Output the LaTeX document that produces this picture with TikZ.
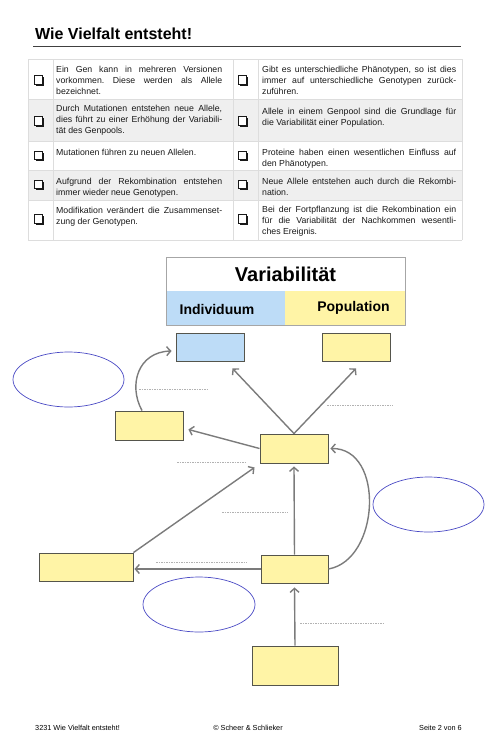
\documentclass[tikz,border=0pt]{standalone}
\usepackage{fontspec}
\setmainfont{Liberation Sans}
\usepackage{tikz}
\usetikzlibrary{arrows.meta,positioning,shapes.geometric,shadows}

\definecolor{fieldblue}{HTML}{BDDCF7}
\definecolor{fieldyellow}{HTML}{FFF4A6}
\definecolor{ovalblue}{HTML}{4A4AC4}
\definecolor{arrowgray}{HTML}{7B7B7B}
\definecolor{boxline}{HTML}{55554C}
\definecolor{rulegray}{HTML}{DDDDDD}
\definecolor{rowgray}{HTML}{EFEFEF}

\newcommand\cellsetup{\fontsize{8.75}{11.4}\selectfont\frenchspacing
  \tolerance=10000\relax\hyphenpenalty=10000\relax}

\tikzset{
  celltext/.style={anchor=north west,inner sep=0pt,align=justify,
    font=\cellsetup,text=black!90},
  leftcell/.style={celltext,text width=166pt},
  rightcell/.style={celltext,text width=194pt},
  tickbox/.style={draw=black!90,fill=white,line width=0.8pt,minimum size=8.5pt,
    inner sep=0pt,drop shadow={shadow xshift=1.4pt,shadow yshift=-1.4pt,
    fill=black!90,opacity=1}},
  fieldbox/.style={draw=boxline,line width=0.9pt,minimum width=68pt,
    minimum height=28pt,inner sep=0pt},
  yellowfield/.style={fieldbox,fill=fieldyellow},
  bluefield/.style={fieldbox,fill=fieldblue},
  oval/.style={ellipse,draw=ovalblue,line width=0.7pt,minimum width=111pt,
    minimum height=55pt,inner sep=0pt},
  flow/.style={draw=arrowgray,line width=1.4pt,
    -{Straight Barb[length=4pt,width=9pt]}},
  answerline/.style={draw=black!30,line width=0.6pt,dash pattern=on 1.5pt off 1pt},
}

\begin{document}
\begin{tikzpicture}[x=1pt,y=-1pt]
  \useasboundingbox (0,0) rectangle (500,755);
  % Title
  \node[anchor=base west,inner sep=0pt,font=\fontsize{16}{19}\selectfont\bfseries]
    (title) at (35,39) {Wie Vielfalt entsteht!};
  \draw[black!75,line width=0.8pt] (33,46) -- (461,46);

  % Table
  \fill[rowgray] (28,99) rectangle (462,141);
  \fill[rowgray] (28,170) rectangle (462,200);
  \foreach \y in {59,99,141,170,200,240}
    \draw[rulegray] (28,\y) -- (462,\y);
  \foreach \x in {28,53,233,258,462}
    \draw[rulegray] (\x,59) -- (\x,240);
  \foreach \y [count=\i] in {80,121,155.5,184.5,219}{
    \node[tickbox] (boxL\i) at (38.5,\y) {};
    \node[tickbox] (boxR\i) at (242.5,\y) {};
  }
  \node[leftcell] (textL1) at (56,65.5) {Ein Gen kann in mehreren Versionen\linebreak vorkommen. Diese werden als Allele\linebreak bezeichnet.};
  \node[leftcell] (textL2) at (56,104.5) {Durch Mutationen entstehen neue Allele,\linebreak dies führt zu einer Erhöhung der Variabili-\linebreak tät des Genpools.};
  \node[leftcell] (textL3) at (56,149) {Mutationen führen zu neuen Allelen.};
  \node[leftcell] (textL4) at (56,178) {Aufgrund der Rekombination entstehen\linebreak immer wieder neue Genotypen.};
  \node[leftcell] (textL5) at (56,207) {Modifikation verändert die Zusammenset-\linebreak zung der Genotypen.};
  \node[rightcell] (textR1) at (262,65.5) {Gibt es unterschiedliche Phänotypen, so ist dies\linebreak immer auf unterschiedliche Genotypen zurück-\linebreak zuführen.};
  \node[rightcell] (textR2) at (262,108) {Allele in einem Genpool sind die Grundlage für\linebreak die Variabilität einer Population.};
  \node[rightcell] (textR3) at (262,149) {Proteine haben einen wesentlichen Einfluss auf\linebreak den Phänotypen.};
  \node[rightcell] (textR4) at (262,178) {Neue Allele entstehen auch durch die Rekombi-\linebreak nation.};
  \node[rightcell] (textR5) at (262,205.5) {Bei der Fortpflanzung ist die Rekombination ein\linebreak für die Variabilität der Nachkommen wesentli-\linebreak ches Ereignis.};

  % Variabilitaet header
  \node[fill=white,minimum width=239pt,minimum height=34pt,inner sep=0pt,
    font=\fontsize{20}{20}\selectfont\bfseries] (varHead) at (285.5,274) {Variabilität};
  \node[fill=fieldblue,minimum width=119pt,minimum height=34pt,inner sep=0pt] (varIndiv) at (225.5,308) {};
  \node[fill=fieldyellow,minimum width=120pt,minimum height=34pt,inner sep=0pt] (varPop) at (345,308) {};
  \draw[black!35] (varHead.north west) rectangle (varPop.south east);
  \node[font=\fontsize{14}{14}\selectfont\bfseries] (indivLabel) at (217,309.5) {Individuum};
  \node[font=\fontsize{14}{14}\selectfont\bfseries] (popLabel) at (353.5,308) {Population};

  % Answer fields
  \node[bluefield] (indiv) at (210,347) {};
  \node[yellowfield] (popul) at (356,347) {};
  \node[yellowfield,minimum height=29pt] (left) at (149,425.5) {};
  \node[yellowfield,minimum height=29pt] (mid) at (294,448.5) {};
  \node[yellowfield,minimum width=94pt] (lowleft) at (86,567) {};
  \node[yellowfield,minimum width=67pt] (lowmid) at (294.5,569) {};
  \node[yellowfield,minimum width=86pt,minimum height=39pt] (base) at (295,665.5) {};
  \node[oval] (ovalA) at (68.5,379.5) {};
  \node[oval] (ovalB) at (428.5,504.5) {};
  \node[oval,minimum width=112pt] (ovalC) at (199,604.5) {};

  % Connectors
  \draw[flow] (mid.north) -- ([xshift=-12pt,yshift=-7pt]indiv.south east);
  \draw[flow] (mid.north) -- ([yshift=-7pt]popul.south);
  \draw[flow] (mid.west) -- ([xshift=5pt,yshift=-4pt]left.east);
  \draw[flow] (lowleft.north east) -- ([xshift=-5pt,yshift=-4pt]mid.south west);
  \draw[flow] (lowmid.north) -- ([yshift=-3pt]mid.south);
  \draw[flow] (lowmid.west) -- ([xshift=1pt]lowmid.west -| lowleft.east);
  \draw[flow] (base.north) -- ([yshift=-4pt]lowmid.south);
  \draw[flow] ([xshift=-7pt]left.north) .. controls (128,385) and (138,352)
    .. ([xshift=-4pt,yshift=-4pt]indiv.west);
  \draw[flow] (lowmid.east) .. controls (380,560) and (385,448)
    .. ([xshift=2pt]mid.east);

  % Dotted answer lines
  \draw[answerline] (139,389) -- ++(68,0);
  \draw[answerline] (327,405) -- ++(66,0);
  \draw[answerline] (177,462) -- ++(68,0);
  \draw[answerline] (222,512) -- ++(66,0);
  \draw[answerline] (156,562) -- ++(91,0);
  \draw[answerline] (300,623) -- ++(84,0);

  % Footer
  \node[anchor=base west,inner sep=0pt,font=\fontsize{7.3}{9}\selectfont] (footL) at (35,730) {3231 Wie Vielfalt entsteht!};
  \node[anchor=base,inner sep=0pt,font=\fontsize{7.3}{9}\selectfont] (footM) at (248,730) {© Scheer \& Schlieker};
  \node[anchor=base east,inner sep=0pt,font=\fontsize{7.3}{9}\selectfont] (footR) at (462,730) {Seite 2 von 6};
\end{tikzpicture}
\end{document}
